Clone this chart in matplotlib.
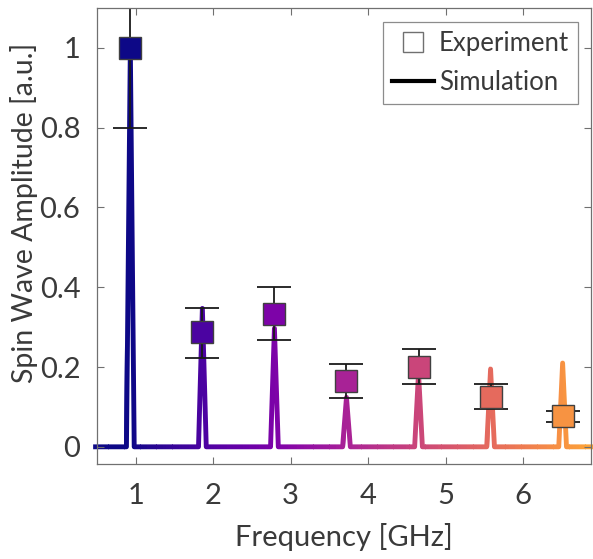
import matplotlib
matplotlib.use("Agg")
import matplotlib.pyplot as plt
import matplotlib.patches as mpatches
from matplotlib.lines import Line2D
import numpy as np

plt.rcParams['font.family'] = ['Lato', 'DejaVu Sans']

# измеренные значения (квадраты с погрешностями)
exp_freq = [0.93, 1.86, 2.79, 3.72, 4.65, 5.58, 6.51]
exp_amp = [1.0, 0.287, 0.334, 0.166, 0.201, 0.126, 0.076]
exp_err_lo = [0.20, 0.064, 0.067, 0.043, 0.044, 0.030, 0.014]
exp_err_hi = [0.20, 0.062, 0.067, 0.042, 0.044, 0.032, 0.014]

# моделирование: пики спектра
sim_x = [0.45, 0.88, 0.93, 0.98, 1.81, 1.86, 1.91, 2.74, 2.79, 2.84,
         3.67, 3.72, 3.77, 4.60, 4.65, 4.70, 5.53, 5.58, 5.63,
         6.46, 6.51, 6.56, 6.95]
sim_y = [0, 0, 1.0, 0, 0, 0.347, 0, 0, 0.297, 0,
         0, 0.124, 0, 0, 0.185, 0, 0, 0.195, 0,
         0, 0.21, 0, 0]

xlim = (0.5, 6.87)
ylim = (-0.043, 1.1)
txt = '#3a3a3a'

cmap = plt.get_cmap('plasma')


def col(f):
    return cmap(np.clip(0.1333 * (f - 0.93), 0, 1))


fig = plt.figure(figsize=(5.93, 5.59), dpi=100)
ax = fig.add_axes([0.1636, 0.170, 0.8322, 0.8157])

# линия с градиентом: рисуем по вертикальным полосам
edges = np.linspace(xlim[0] - 0.1, xlim[1] + 0.1, 160)
for a, b in zip(edges[:-1], edges[1:]):
    ln, = ax.plot(sim_x, sim_y, color=col(0.5 * (a + b)), lw=3.5,
                  solid_joinstyle='round', solid_capstyle='butt', zorder=1)
    clip = mpatches.Rectangle((a, -1), b - a + 0.002, 3, transform=ax.transData)
    ln.set_clip_path(clip)

# погрешности
ax.errorbar(exp_freq, exp_amp, yerr=[exp_err_lo, exp_err_hi], fmt='none',
            ecolor='#1a1a1a', elinewidth=1.3, capsize=12.5, capthick=1.3, zorder=2)

# квадраты
for f, a in zip(exp_freq, exp_amp):
    ax.plot(f, a, 's', ms=16, mfc=col(f), mec='#404040', mew=1.0, zorder=3)

ax.set_xlim(*xlim)
ax.set_ylim(*ylim)
ax.set_xticks([1, 2, 3, 4, 5, 6])
ax.set_yticks([0, 0.2, 0.4, 0.6, 0.8, 1])
ax.set_yticklabels(['0', '0.2', '0.4', '0.6', '0.8', '1'])
ax.tick_params(direction='in', length=5, width=0.8, colors='#707070',
               labelcolor=txt, labelsize=21, top=True, right=True)
ax.tick_params(axis='x', pad=14)
ax.tick_params(axis='y', pad=12)
for s in ax.spines.values():
    s.set_color('#707070')
    s.set_linewidth(0.9)

ax.set_xlabel('Frequency [GHz]', fontsize=21, color=txt, labelpad=10)
ax.set_ylabel('Spin Wave Amplitude [a.u.]', fontsize=20.5, color=txt)
ax.yaxis.set_label_coords(-0.12, 0.55)

handles = [Line2D([], [], marker='s', ls='none', mfc='white', mec='#707070', ms=15, mew=1),
           Line2D([], [], color='black', lw=3)]
leg = ax.legend(handles, ['Experiment', 'Simulation'], loc='upper right',
                fontsize=18.5, frameon=True, fancybox=False, edgecolor='#707070',
                handlelength=1.65, handletextpad=0.2, borderpad=0.35,
                labelspacing=0.55, borderaxespad=0, bbox_to_anchor=(0.975, 0.970))
leg.get_frame().set_linewidth(0.9)
for t in leg.get_texts():
    t.set_color(txt)

fig.savefig('out.png', dpi=100)
